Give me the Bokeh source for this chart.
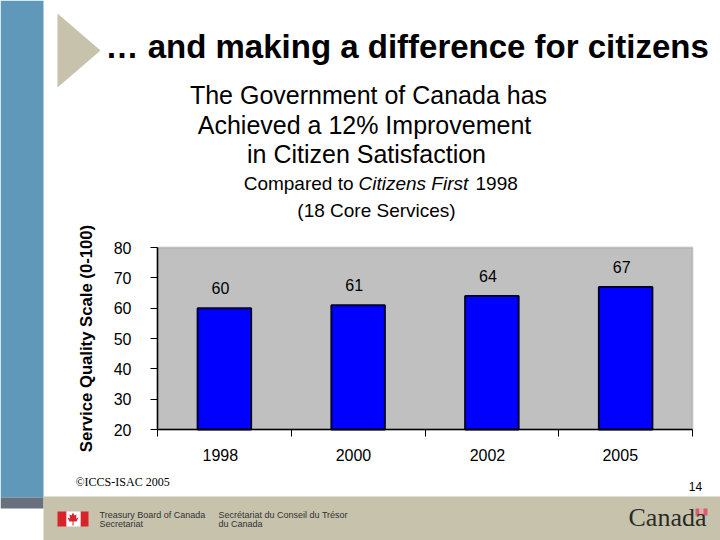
from bokeh.plotting import figure
from bokeh.models import (ColumnDataSource, FixedTicker, Label, BoxAnnotation, PolyAnnotation, Range1d)
from bokeh.core.properties import value
from bokeh.embed import file_html
from bokeh.resources import INLINE

years = ["1998", "2000", "2002", "2005"]
scores = [60, 61, 64, 67]
y_ticks = [20, 30, 40, 50, 60, 70, 80]
slots = [0.5, 1.5, 2.5, 3.5]
label_ticks = [0.47, 1.465, 2.467, 3.46]
boundaries = [0, 1, 2, 3, 4]

FONT = "Liberation Sans"
TAN = "#C6C2AC"
W, H = 720, 540
PX_X = 133.75      # pixels per category
PX_Y = 182 / 60    # pixels per score point
LEFT, BOTTOM = 157, 429

# The frame fills the whole canvas, so that page texts outside the plot are not clipped
p = figure(width=W, height=H, output_backend="svg", toolbar_location=None,
           x_range=Range1d(-LEFT / PX_X, (W - LEFT) / PX_X),
           y_range=Range1d(20 - (H - BOTTOM) / PX_Y, 20 + BOTTOM / PX_Y),
           min_border_left=0, min_border_right=0, min_border_top=0, min_border_bottom=0,
           background_fill_color="white", border_fill_color="white", outline_line_color=None)
p.grid.visible = False

xa = p.xaxis[0]
xa.fixed_location = 20
xa.bounds = (0, 4)
xa.ticker = FixedTicker(ticks=label_ticks, minor_ticks=boundaries)
xa.major_label_overrides = {t: y for t, y in zip(label_ticks, years)}
xa.major_tick_line_color = None
xa.major_tick_in = 0
xa.major_tick_out = 7
xa.minor_tick_in = 0
xa.minor_tick_out = 7
xa.minor_tick_line_color = "black"
xa.axis_line_color = "black"
xa.axis_line_width = 1.5
xa.major_label_standoff = 12
xa.major_label_text_font = FONT
xa.major_label_text_font_size = "16px"
xa.major_label_text_color = "black"

ya = p.yaxis[0]
ya.fixed_location = 0
ya.bounds = (20, 80)
ya.ticker = FixedTicker(ticks=y_ticks, minor_ticks=[])
ya.major_tick_in = 0
ya.major_tick_out = 7
ya.major_tick_line_color = "black"
ya.axis_line_color = "black"
ya.axis_line_width = 1.5
ya.major_label_standoff = 19
ya.major_label_text_font = FONT
ya.major_label_text_font_size = "16px"
ya.major_label_text_color = "black"
ya.axis_label = "Service Quality Scale (0-100)"
ya.axis_label_text_font = FONT
ya.axis_label_text_font_style = "bold"
ya.axis_label_text_font_size = "16.7px"
ya.axis_label_text_color = "black"
ya.axis_label_standoff = 15

p.add_layout(BoxAnnotation(left=0, right=4, bottom=20, top=80, fill_color="#C0C0C0", fill_alpha=1,
                           line_color="#808080", line_width=2, level="underlay"))

src = ColumnDataSource(dict(x=slots, y=scores, t=[str(v) for v in scores]))
p.vbar(x="x", top="y", bottom=20, width=0.4, source=src, fill_color="#0000FF",
       line_color="#000033", line_width=2)
p.text(x="x", y="y", text="t", source=src, x_offset=-4, y_offset=-20, text_align="center",
       text_baseline="middle", text_font=value(FONT), text_font_size="16px", text_color="black")

def box(l, r, t, b, c):
    p.add_layout(BoxAnnotation(left=l, right=r, top=H - t, bottom=H - b, left_units="screen", right_units="screen",
                               top_units="screen", bottom_units="screen", fill_color=c, fill_alpha=1,
                               line_color=None, level="underlay"))

def label(x, y, s, size, align="left", style="normal", color="black", font=FONT):
    p.add_layout(Label(x=x, y=H - y, x_units="screen", y_units="screen", text=s, text_font=font,
                       text_font_size=size, text_align=align, text_baseline="middle",
                       text_font_style=style, text_color=color))

def poly(xs, ys, c):
    p.add_layout(PolyAnnotation(xs=xs, ys=[H - y for y in ys], xs_units="screen", ys_units="screen",
                                fill_color=c, fill_alpha=1, line_color=None))

box(0, 43, 0, 497, "#6098B9")
box(0, 43, 497, 508, "#68707E")
box(43, 720, 496, 540, TAN)
poly([57, 100, 57], [13, 50, 87], TAN)

label(105, 46, "… and making a difference for citizens", "33px", style="bold")
label(368, 94.5, "The Government of Canada has", "25px", "center")
label(364, 124.5, "Achieved a 12% Improvement", "25px", "center")
label(366, 153.5, "in Citizen Satisfaction", "25px", "center")
label(353, 183, "Compared to", "19px", "right")
label(358, 183, "Citizens First", "19px", "left", style="italic")
label(475, 183, "1998", "19px", "left")
label(376, 210, "(18 Core Services)", "19px", "center")
label(75, 481, "©ICCS-ISAC 2005", "12px", font="Liberation Serif")
label(695, 486, "14", "12px", "center")

# footer
box(57, 66, 511, 526, "#D8232A")
box(80, 88, 511, 526, "#D8232A")
box(66, 80, 511, 526, "#FFFFFF")
poly([72.5, 74, 76, 75.5, 78, 76, 73, 73, 72, 72, 69, 67, 69.5, 69, 71],
     [512, 515, 514, 518, 517, 521, 521, 525, 525, 521, 521, 517, 518, 514, 515], "#D8232A")
label(99, 514, "Treasury Board of Canada", "9px", color="#333333")
label(99, 523.5, "Secretariat", "9px", color="#333333")
label(218, 514, "Secrétariat du Conseil du Trésor", "9px", color="#333333")
label(218, 523.5, "du Canada", "9px", color="#333333")
label(628, 517, "Canada", "26px", color="#2A2A28", font="Liberation Serif")
box(695, 699, 508, 515, "#D8606A")
box(699, 703, 508, 515, "#E6A9A8")
box(703, 707, 508, 515, "#D8606A")

open("out.html", "w").write(file_html(p, INLINE))
